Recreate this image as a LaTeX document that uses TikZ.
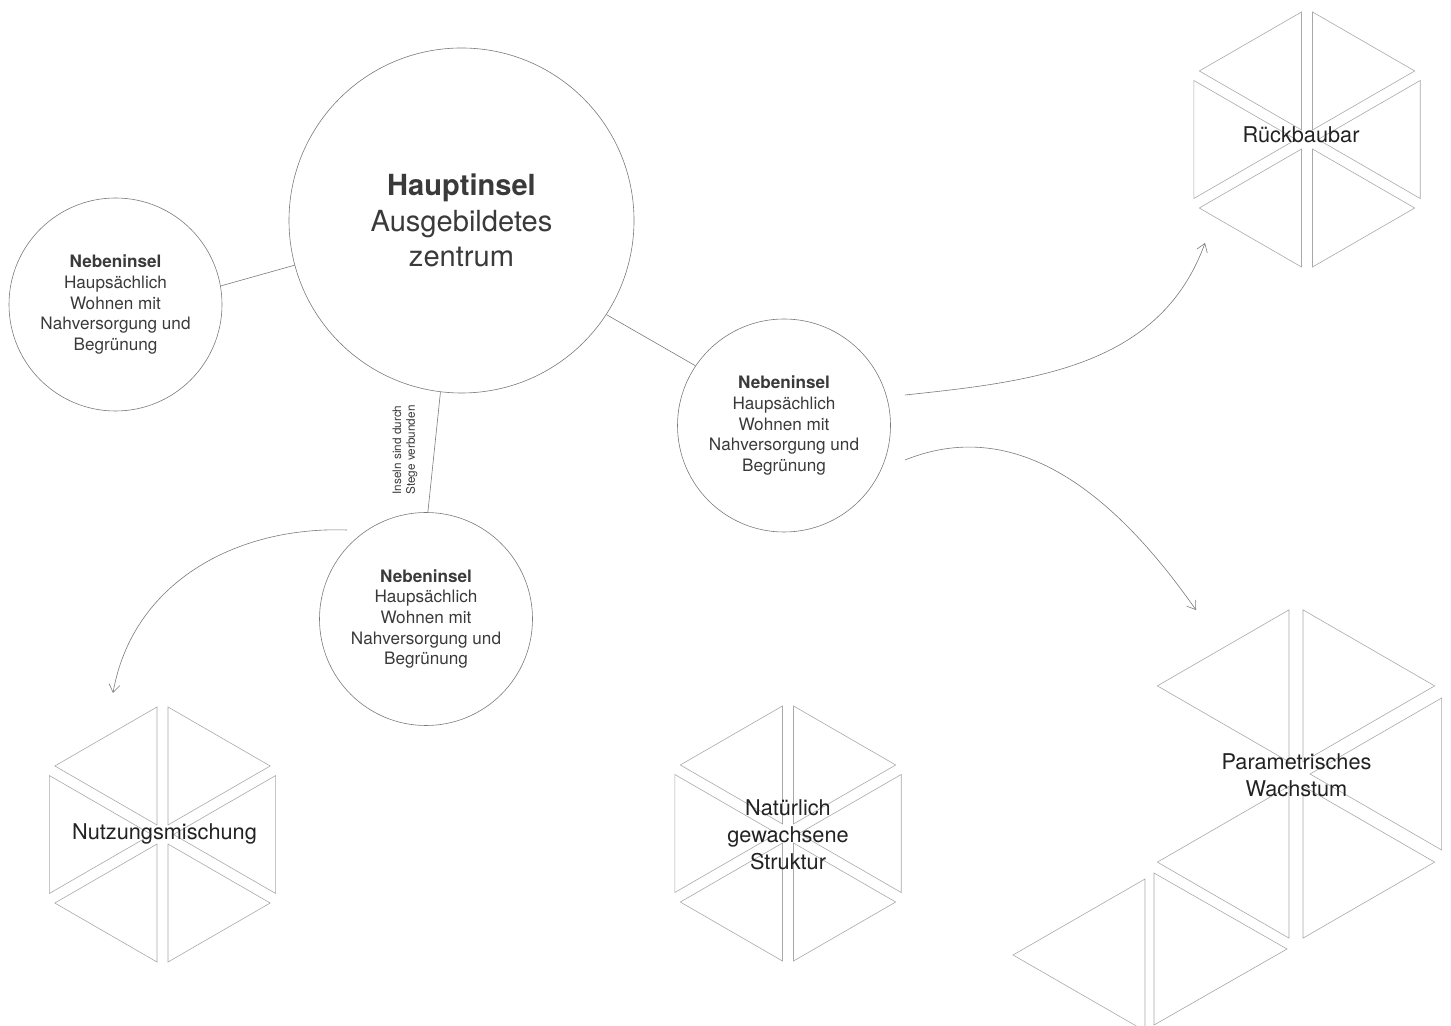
\documentclass[tikz,border=0pt]{standalone}
\usepackage{fontspec}
\setmainfont{TeX Gyre Heros}
\usetikzlibrary{arrows.meta, positioning, calc}

\definecolor{inkgray}{HTML}{3A3A3A}
\definecolor{darkink}{HTML}{222222}
\definecolor{linegray}{HTML}{7A7A7A}
\definecolor{trigray}{HTML}{A8A8A8}

\begin{document}
\begin{tikzpicture}[x=1bp, y=1bp,
    island/.style={circle, draw=linegray, line width=0.6pt, inner sep=0pt, align=center, text=inkgray},
    link/.style={draw=linegray, line width=0.6pt},
    tri/.style={draw=trigray, line width=0.6pt},
    growarrow/.style={draw=linegray, line width=0.6pt, -{Straight Barb[length=8pt,width=11pt]}},
    clusterlbl/.style={align=center, text=darkink, font=\fontsize{21.8}{27}\selectfont}]
    \useasboundingbox (0,0) rectangle (1451,1025);

    % islands
    \node[island, minimum size=345bp, font=\fontsize{29.2}{36}\selectfont] (haupt) at (461.5,804.5) {\textbf{Hauptinsel}\\Ausgebildetes\\zentrum};
    \node[island, minimum size=213bp, font=\fontsize{17.2}{20.6}\selectfont] (nebenL) at (115.5,720.5) {\textbf{Nebeninsel}\\Haupsächlich\\Wohnen mit\\Nahversorgung und\\Begrünung};
    \node[island, minimum size=213bp, font=\fontsize{17.2}{20.6}\selectfont] (nebenR) at (784,599.5) {\textbf{Nebeninsel}\\Haupsächlich\\Wohnen mit\\Nahversorgung und\\Begrünung};
    \node[island, minimum size=213bp, font=\fontsize{17.2}{20.6}\selectfont] (nebenB) at (426,406) {\textbf{Nebeninsel}\\Haupsächlich\\Wohnen mit\\Nahversorgung und\\Begrünung};

    \draw[link] (haupt.195) -- (nebenL.10);
    \draw[link] (haupt.-33) -- (nebenR.146);
    \draw[link] (haupt.263) -- (nebenB.89);
    \node[rotate=90, align=center, text=inkgray, font=\fontsize{11.8}{14}\selectfont] (stege) at (405,575) {Inseln sind durch\\Stege verbunden};

    % triangle clusters
    \foreach \cx/\cy in {1307/885.5, 162.5/190.5, 788/191.5}
        \foreach \a in {0,60,...,300}
            \draw[tri] (\cx,\cy) ++(\a:11) -- ++(\a-30:118) -- ++(\a+90:118) -- cycle;
    \foreach \a in {0,60,120,240,300}
        \draw[tri] (1296,251) ++(\a:14) -- ++(\a-30:152) -- ++(\a+90:152) -- cycle;
    \draw[tri] (1145,146) -- (1145,-6) -- (1013,70) -- cycle;
    \draw[tri] (1154,152) -- (1154,0) -- (1287,76) -- cycle;

    \node[clusterlbl] (rueck) at (1301,890) {Rückbaubar};
    \node[clusterlbl] (nutzung) at (164.5,191) {Nutzungsmischung};
    \node[clusterlbl] (natur) at (788,190) {Natürlich\\gewachsene\\Struktur};
    \node[clusterlbl] (param) at (1296.5,249.5) {Parametrisches\\Wachstum};

    % growth arrows
    \coordinate (rFrom) at (905,630);
    \coordinate (rTo) at (1205,782);
    \coordinate (pFrom) at (905,565);
    \coordinate (pTo) at (1196,415);
    \coordinate (nFrom) at (347,495);
    \coordinate (nTo) at (113,332);
    \draw[growarrow] (rFrom) to[out=6, in=-110] (rTo);
    \draw[growarrow] (pFrom) to[out=22, in=125] (pTo);
    \draw[growarrow] (nFrom) to[out=178, in=80] (nTo);
\end{tikzpicture}
\end{document}
